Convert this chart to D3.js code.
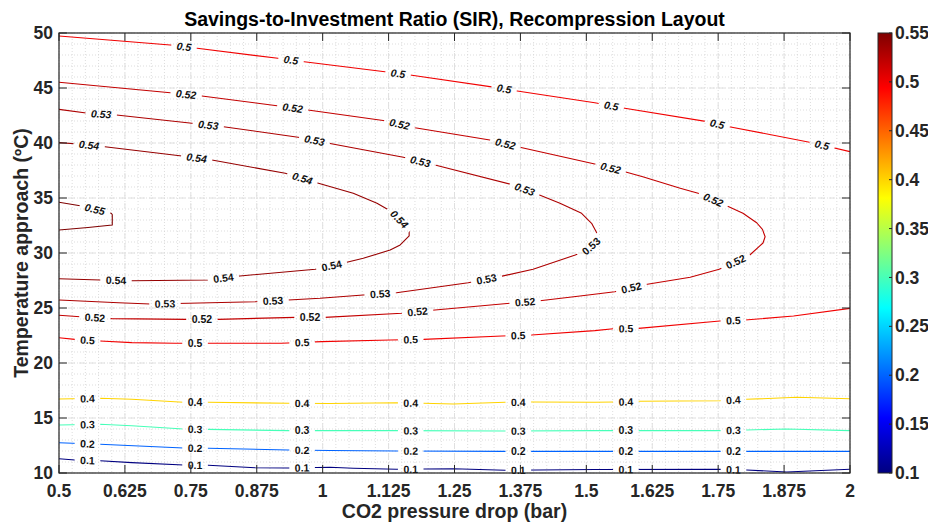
<!DOCTYPE html>
<html>
<head>
<meta charset="utf-8">
<script src="https://cdn.jsdelivr.net/npm/d3@7"></script>
<style>
  body { margin: 0; background: #fff; }
  svg { display: block; font-family: "Liberation Sans", Arial, Helvetica, sans-serif; }
</style>
</head>
<body>
<svg id="chart" width="928" height="528"></svg>
<script>
// ---- Axis ticks ----
const xTicks = [0.5, 0.625, 0.75, 0.875, 1, 1.125, 1.25, 1.375, 1.5, 1.625, 1.75, 1.875, 2];
const xTickLabels = ["0.5", "0.625", "0.75", "0.875", "1", "1.125", "1.25", "1.375", "1.5", "1.625", "1.75", "1.875", "2"];
const yTicks = [10, 15, 20, 25, 30, 35, 40, 45, 50];
const cbTicks = [0.1, 0.15, 0.2, 0.25, 0.3, 0.35, 0.4, 0.45, 0.5, 0.55];
const cbTickLabels = ["0.1", "0.15", "0.2", "0.25", "0.3", "0.35", "0.4", "0.45", "0.5", "0.55"];

// ---- SIR iso-lines: [CO2 pressure drop (bar), temperature approach (°C)] ----
const sir010 = [[0.5,11.30],[0.530,11.18],[0.578,11.12],[0.638,10.94],[0.736,10.73],[0.783,10.70],[0.872,10.48],[0.935,10.45],[1.014,10.52],[1.058,10.43],[1.140,10.34],[1.248,10.39],[1.346,10.25],[1.516,10.32],[1.753,10.34],[1.804,10.27],[1.880,10.09],[2.0,10.34]];
const sir020 = [[0.5,12.75],[0.578,12.61],[0.736,12.27],[0.783,12.25],[0.935,12.09],[1.014,12.05],[1.140,12.0],[1.346,11.97],[1.6,11.97],[1.8,11.97],[2.0,11.97]];
const sir030 = [[0.5,14.36],[0.578,14.43],[0.638,14.30],[0.736,14.0],[0.783,13.97],[0.935,13.85],[1.140,13.85],[1.346,13.82],[1.516,13.85],[1.753,13.85],[1.804,13.91],[1.880,14.0],[2.0,13.85]];
const sir040 = [[0.5,16.73],[0.578,16.79],[0.638,16.70],[0.736,16.43],[0.783,16.43],[0.935,16.34],[1.014,16.32],[1.140,16.39],[1.191,16.34],[1.248,16.27],[1.346,16.43],[1.396,16.45],[1.516,16.43],[1.554,16.45],[1.599,16.52],[1.753,16.57],[1.804,16.70],[1.899,16.88],[2.0,16.75]];
const sir050Low = [[0.5,22.30],[0.530,22.15],[0.578,22.0],[0.638,21.85],[0.720,21.79],[0.783,21.79],[0.922,21.79],[0.998,21.94],[1.128,22.09],[1.191,22.15],[1.340,22.45],[1.396,22.55],[1.516,22.94],[1.551,23.12],[1.599,23.15],[1.753,23.82],[1.801,23.91],[1.893,24.27],[2.0,24.97]];
const sir050High = [[0.5,49.73],[0.711,48.91],[0.762,48.61],[0.915,47.70],[0.965,47.39],[1.118,46.48],[1.166,46.18],[1.327,45.06],[1.369,44.73],[1.516,43.66],[1.570,43.18],[1.729,41.94],[1.771,41.48],[1.928,40.03],[2.0,39.21]];
const sir052 = [[0.5,45.52],[0.711,44.57],[0.771,44.27],[0.917,43.36],[0.972,43.0],[1.118,42.03],[1.175,41.39],[1.317,40.27],[1.374,39.61],[1.516,38.09],[1.573,37.39],[1.607,36.94],[1.678,35.88],[1.712,35.43],[1.766,34.30],[1.797,33.61],[1.823,32.75],[1.834,32.15],[1.839,31.48],[1.835,30.91],[1.829,30.64],[1.810,29.82],[1.752,28.52],[1.697,27.79],[1.607,27.09],[1.554,26.48],[1.488,26.09],[1.412,25.66],[1.355,25.43],[1.213,24.82],[1.150,24.52],[1.004,24.15],[0.948,24.15],[0.802,23.97],[0.742,23.97],[0.600,24.03],[0.540,24.21],[0.5,24.34]];
const sir053 = [[0.5,43.06],[0.555,42.70],[0.609,42.55],[0.752,41.79],[0.812,41.48],[0.960,40.48],[1.014,39.95],[1.153,38.70],[1.213,38.0],[1.362,36.18],[1.403,35.43],[1.450,34.52],[1.491,33.61],[1.510,32.70],[1.523,31.55],[1.520,31.09],[1.501,30.27],[1.479,29.82],[1.399,28.52],[1.336,27.85],[1.276,27.30],[1.140,26.39],[1.077,26.18],[0.995,25.88],[0.935,25.73],[0.872,25.57],[0.745,25.43],[0.673,25.36],[0.613,25.48],[0.5,25.73]];
const sir054 = [[0.5,40.03],[0.536,39.91],[0.587,39.66],[0.733,38.82],[0.790,38.45],[0.929,37.25],[0.992,36.34],[1.058,35.43],[1.103,34.52],[1.132,33.73],[1.156,32.55],[1.164,32.09],[1.164,31.55],[1.147,30.73],[1.128,30.27],[1.077,29.52],[1.042,29.12],[0.986,28.52],[0.843,27.91],[0.783,27.55],[0.638,27.48],[0.578,27.55],[0.5,27.66]];
const sir055 = [[0.5,34.61],[0.540,34.30],[0.599,33.61],[0.601,33.50],[0.601,32.55],[0.555,32.32],[0.5,32.09]];

// ---- Inline label positions for each iso-line ----
const labelX = [0.554, 0.758, 0.961, 1.167, 1.371, 1.575, 1.779];
const lab010 = [11.1, 10.6, 10.4, 10.3, 10.2, 10.2, 10.3];
const lab020 = [12.6, 12.2, 12.0, 12.0, 12.0, 12.0, 12.0];
const lab030 = [14.3, 13.9, 13.8, 13.8, 13.8, 13.8, 13.8];
const lab040 = [16.7, 16.3, 16.3, 16.3, 16.3, 16.4, 16.5];
const lab050Low = [22.0, 21.79, 21.85, 22.03, 22.39, 23.06, 23.75];
const lab050High = [[0.737,48.73],[0.940,47.55],[1.143,46.32],[1.344,44.91],[1.547,43.32],[1.748,41.68],[1.947,39.82]];
const lab052 = [[0.741,44.36],[0.943,43.09],[1.145,41.57],[1.346,39.82],[1.546,37.70],[1.740,34.75],[1.784,29.12],[1.586,26.73],[1.384,25.48],[1.180,24.66],[0.976,24.15],[0.771,23.91],[0.568,24.03]];
const lab053 = [[0.580,42.64],[0.783,41.64],[0.984,40.12],[1.185,38.25],[1.382,35.66],[1.507,30.73],[1.311,27.55],[1.109,26.27],[0.906,25.57],[0.701,25.34]];
const lab054 = [[0.557,39.73],[0.761,38.61],[0.961,36.70],[1.147,33.15],[1.017,28.82],[0.812,27.61],[0.608,27.39]];
const lab055 = [[0.567,33.75]];

const zip = ys => labelX.map((v, i) => [v, ys[i]]);
const contourLines = [
  { level: 0.1,  text: "0.1",  path: sir010,    labels: zip(lab010) },
  { level: 0.2,  text: "0.2",  path: sir020,    labels: zip(lab020) },
  { level: 0.3,  text: "0.3",  path: sir030,    labels: zip(lab030) },
  { level: 0.4,  text: "0.4",  path: sir040,    labels: zip(lab040) },
  { level: 0.5,  text: "0.5",  path: sir050Low, labels: zip(lab050Low) },
  { level: 0.5,  text: "0.5",  path: sir050High, labels: lab050High },
  { level: 0.52, text: "0.52", path: sir052,    labels: lab052 },
  { level: 0.53, text: "0.53", path: sir053,    labels: lab053 },
  { level: 0.54, text: "0.54", path: sir054,    labels: lab054 },
  { level: 0.55, text: "0.55", path: sir055,    labels: lab055 }
];

// ---- Layout ----
const svg = d3.select("#chart");
const plot = { left: 59, right: 850, top: 33, bottom: 473 };
const bar = { left: 878, right: 892 };
const ink = "#262626";
const tickFont = 17.5;

const x = d3.scaleLinear().domain([0.5, 2]).range([plot.left, plot.right]);
const y = d3.scaleLinear().domain([10, 50]).range([plot.bottom, plot.top]);
const cScale = d3.scaleLinear().domain([0.1, 0.55]).range([plot.bottom, plot.top]);

// MATLAB-style jet colormap over the colour limits
function jet(v) {
  const t = (v - 0.1) / 0.45;
  const cl = u => Math.max(0, Math.min(1, u));
  const r = cl(Math.min(4 * t - 1.5, -4 * t + 4.5));
  const g = cl(Math.min(4 * t - 0.5, -4 * t + 3.5));
  const b = cl(Math.min(4 * t + 0.5, -4 * t + 2.5));
  return d3.rgb(r * 255, g * 255, b * 255).formatHex();
}

// ---- Grid (minor dotted, major dashed) ----
const grid = svg.append("g");
const minorX = d3.range(0.5, 2.0001, 0.025);
const minorY = d3.range(10, 50.001, 1);
grid.selectAll(".mx").data(minorX).join("line")
  .attr("x1", d => x(d)).attr("x2", d => x(d))
  .attr("y1", plot.top).attr("y2", plot.bottom)
  .attr("stroke", "#d4d4d4").attr("stroke-width", 0.8).attr("stroke-dasharray", "1 2");
grid.selectAll(".my").data(minorY).join("line")
  .attr("y1", d => y(d)).attr("y2", d => y(d))
  .attr("x1", plot.left).attr("x2", plot.right)
  .attr("stroke", "#d4d4d4").attr("stroke-width", 0.8).attr("stroke-dasharray", "1 2");
grid.selectAll(".gx").data(xTicks).join("line")
  .attr("x1", d => x(d)).attr("x2", d => x(d))
  .attr("y1", plot.top).attr("y2", plot.bottom)
  .attr("stroke", "#e0e0e0").attr("stroke-width", 1).attr("stroke-dasharray", "6 4");
grid.selectAll(".gy").data(yTicks).join("line")
  .attr("y1", d => y(d)).attr("y2", d => y(d))
  .attr("x1", plot.left).attr("x2", plot.right)
  .attr("stroke", "#e0e0e0").attr("stroke-width", 1).attr("stroke-dasharray", "6 4");

// ---- Contour labels (placed on the nearest point of their line) ----
function snap(pts, lx, ly) {
  const px = x(lx), py = y(ly);
  let best = null;
  for (let i = 0; i < pts.length - 1; i++) {
    const ax = x(pts[i][0]), ay = y(pts[i][1]);
    const bx = x(pts[i + 1][0]), by = y(pts[i + 1][1]);
    const dx = bx - ax, dy = by - ay, L2 = dx * dx + dy * dy;
    let t = L2 ? ((px - ax) * dx + (py - ay) * dy) / L2 : 0;
    t = Math.max(0, Math.min(1, t));
    const qx = ax + t * dx, qy = ay + t * dy;
    const d = (qx - px) ** 2 + (qy - py) ** 2;
    if (!best || d < best.d) best = { d, qx, qy, ang: Math.atan2(dy, dx) * 180 / Math.PI };
  }
  let a = best.ang;
  if (a > 90) a -= 180;
  if (a < -90) a += 180;
  return { x: best.qx, y: best.qy, a };
}

const labelData = [];
contourLines.forEach(c => c.labels.forEach(([lx, ly]) => {
  const p = snap(c.path, lx, ly);
  labelData.push({ ...p, text: c.text, upper: ly > 30 });
}));

const defs = svg.append("defs");
defs.append("clipPath").attr("id", "plotClip")
  .append("rect").attr("x", plot.left).attr("y", plot.top)
  .attr("width", plot.right - plot.left).attr("height", plot.bottom - plot.top);
const mask = defs.append("mask").attr("id", "labelGaps")
  .attr("maskUnits", "userSpaceOnUse").attr("x", 0).attr("y", 0).attr("width", 928).attr("height", 528);
mask.append("rect").attr("width", 928).attr("height", 528).attr("fill", "#fff");

// ---- Contour lines ----
const lineGen = d3.line().x(d => x(d[0])).y(d => y(d[1]));
svg.append("g").attr("clip-path", "url(#plotClip)").attr("mask", "url(#labelGaps)")
  .selectAll("path").data(contourLines).join("path")
  .attr("d", d => lineGen(d.path))
  .attr("fill", "none")
  .attr("stroke", d => jet(d.level))
  .attr("stroke-width", 1.1)
  .attr("stroke-linejoin", "round");

// Labels on the falling upper branches are slanted
const labels = svg.append("g")
  .selectAll("text").data(labelData).join("text")
  .attr("transform", d => `translate(${d.x},${d.y}) rotate(${d.a})`)
  .attr("text-anchor", "middle").attr("dy", "0.36em")
  .attr("font-size", 10.5).attr("font-weight", "bold")
  .attr("font-style", d => (d.a > 2 && d.upper) ? "italic" : "normal")
  .attr("fill", "#111")
  .text(d => d.text);

labels.each(function (d) { d.w = this.getComputedTextLength(); });
mask.selectAll(".gap").data(labelData).join("rect")
  .attr("transform", d => `translate(${d.x},${d.y}) rotate(${d.a})`)
  .attr("x", d => -d.w / 2 - 5.5).attr("y", -6)
  .attr("width", d => d.w + 11).attr("height", 12)
  .attr("fill", "#000");

// ---- Axes box and inward ticks ----
const axes = svg.append("g");
const tl = 8;
axes.selectAll(".xtb").data(xTicks).join("line")
  .attr("x1", d => x(d)).attr("x2", d => x(d))
  .attr("y1", plot.bottom).attr("y2", plot.bottom - tl)
  .attr("stroke", ink).attr("stroke-width", 1);
axes.selectAll(".xtt").data(xTicks).join("line")
  .attr("x1", d => x(d)).attr("x2", d => x(d))
  .attr("y1", plot.top).attr("y2", plot.top + tl)
  .attr("stroke", ink).attr("stroke-width", 1);
axes.selectAll(".ytl").data(yTicks).join("line")
  .attr("y1", d => y(d)).attr("y2", d => y(d))
  .attr("x1", plot.left).attr("x2", plot.left + tl)
  .attr("stroke", ink).attr("stroke-width", 1);
axes.selectAll(".ytr").data(yTicks).join("line")
  .attr("y1", d => y(d)).attr("y2", d => y(d))
  .attr("x1", plot.right).attr("x2", plot.right - tl)
  .attr("stroke", ink).attr("stroke-width", 1);
axes.append("rect")
  .attr("x", plot.left).attr("y", plot.top)
  .attr("width", plot.right - plot.left).attr("height", plot.bottom - plot.top)
  .attr("fill", "none").attr("stroke", ink).attr("stroke-width", 1.2);

axes.selectAll(".xl").data(xTicks).join("text")
  .attr("x", d => x(d)).attr("y", 497)
  .attr("text-anchor", "middle")
  .attr("font-size", tickFont).attr("font-weight", "bold").attr("fill", ink)
  .text((d, i) => xTickLabels[i]);
axes.selectAll(".yl").data(yTicks).join("text")
  .attr("x", plot.left - 6).attr("y", d => y(d)).attr("dy", "0.35em")
  .attr("text-anchor", "end")
  .attr("font-size", tickFont).attr("font-weight", "bold").attr("fill", ink)
  .text(d => d);

// ---- Titles ----
svg.append("text")
  .attr("x", (plot.left + plot.right) / 2).attr("y", 26)
  .attr("text-anchor", "middle")
  .attr("font-size", 19.5).attr("font-weight", "bold").attr("fill", "#000")
  .text("Savings-to-Investment Ratio (SIR), Recompression Layout");
svg.append("text")
  .attr("x", (plot.left + plot.right) / 2).attr("y", 518)
  .attr("text-anchor", "middle")
  .attr("font-size", 19.5).attr("font-weight", "bold").attr("fill", ink)
  .text("CO2 pressure drop (bar)");
svg.append("text")
  .attr("transform", `translate(28,${(plot.top + plot.bottom) / 2}) rotate(-90)`)
  .attr("text-anchor", "middle")
  .attr("font-size", 19.5).attr("font-weight", "bold").attr("fill", ink)
  .text("Temperature approach (ºC)");

// ---- Colorbar ----
const grad = defs.append("linearGradient").attr("id", "jetGrad")
  .attr("x1", 0).attr("y1", 1).attr("x2", 0).attr("y2", 0);
d3.range(0, 1.0001, 0.0625).forEach(f => {
  grad.append("stop").attr("offset", f).attr("stop-color", jet(0.1 + 0.45 * f));
});
const cb = svg.append("g");
cb.append("rect")
  .attr("x", bar.left).attr("y", plot.top)
  .attr("width", bar.right - bar.left).attr("height", plot.bottom - plot.top)
  .attr("fill", "url(#jetGrad)");
cb.selectAll(".ct").data(cbTicks).join("line")
  .attr("x1", bar.right).attr("x2", bar.right - 3)
  .attr("y1", d => cScale(d)).attr("y2", d => cScale(d))
  .attr("stroke", ink).attr("stroke-width", 1);
cb.append("rect")
  .attr("x", bar.left).attr("y", plot.top)
  .attr("width", bar.right - bar.left).attr("height", plot.bottom - plot.top)
  .attr("fill", "none").attr("stroke", ink).attr("stroke-width", 1);
cb.selectAll(".cl").data(cbTicks).join("text")
  .attr("x", bar.right + 3).attr("y", d => cScale(d)).attr("dy", "0.35em")
  .attr("font-size", tickFont).attr("font-weight", "bold").attr("fill", ink)
  .text((d, i) => cbTickLabels[i]);
</script>
</body>
</html>
